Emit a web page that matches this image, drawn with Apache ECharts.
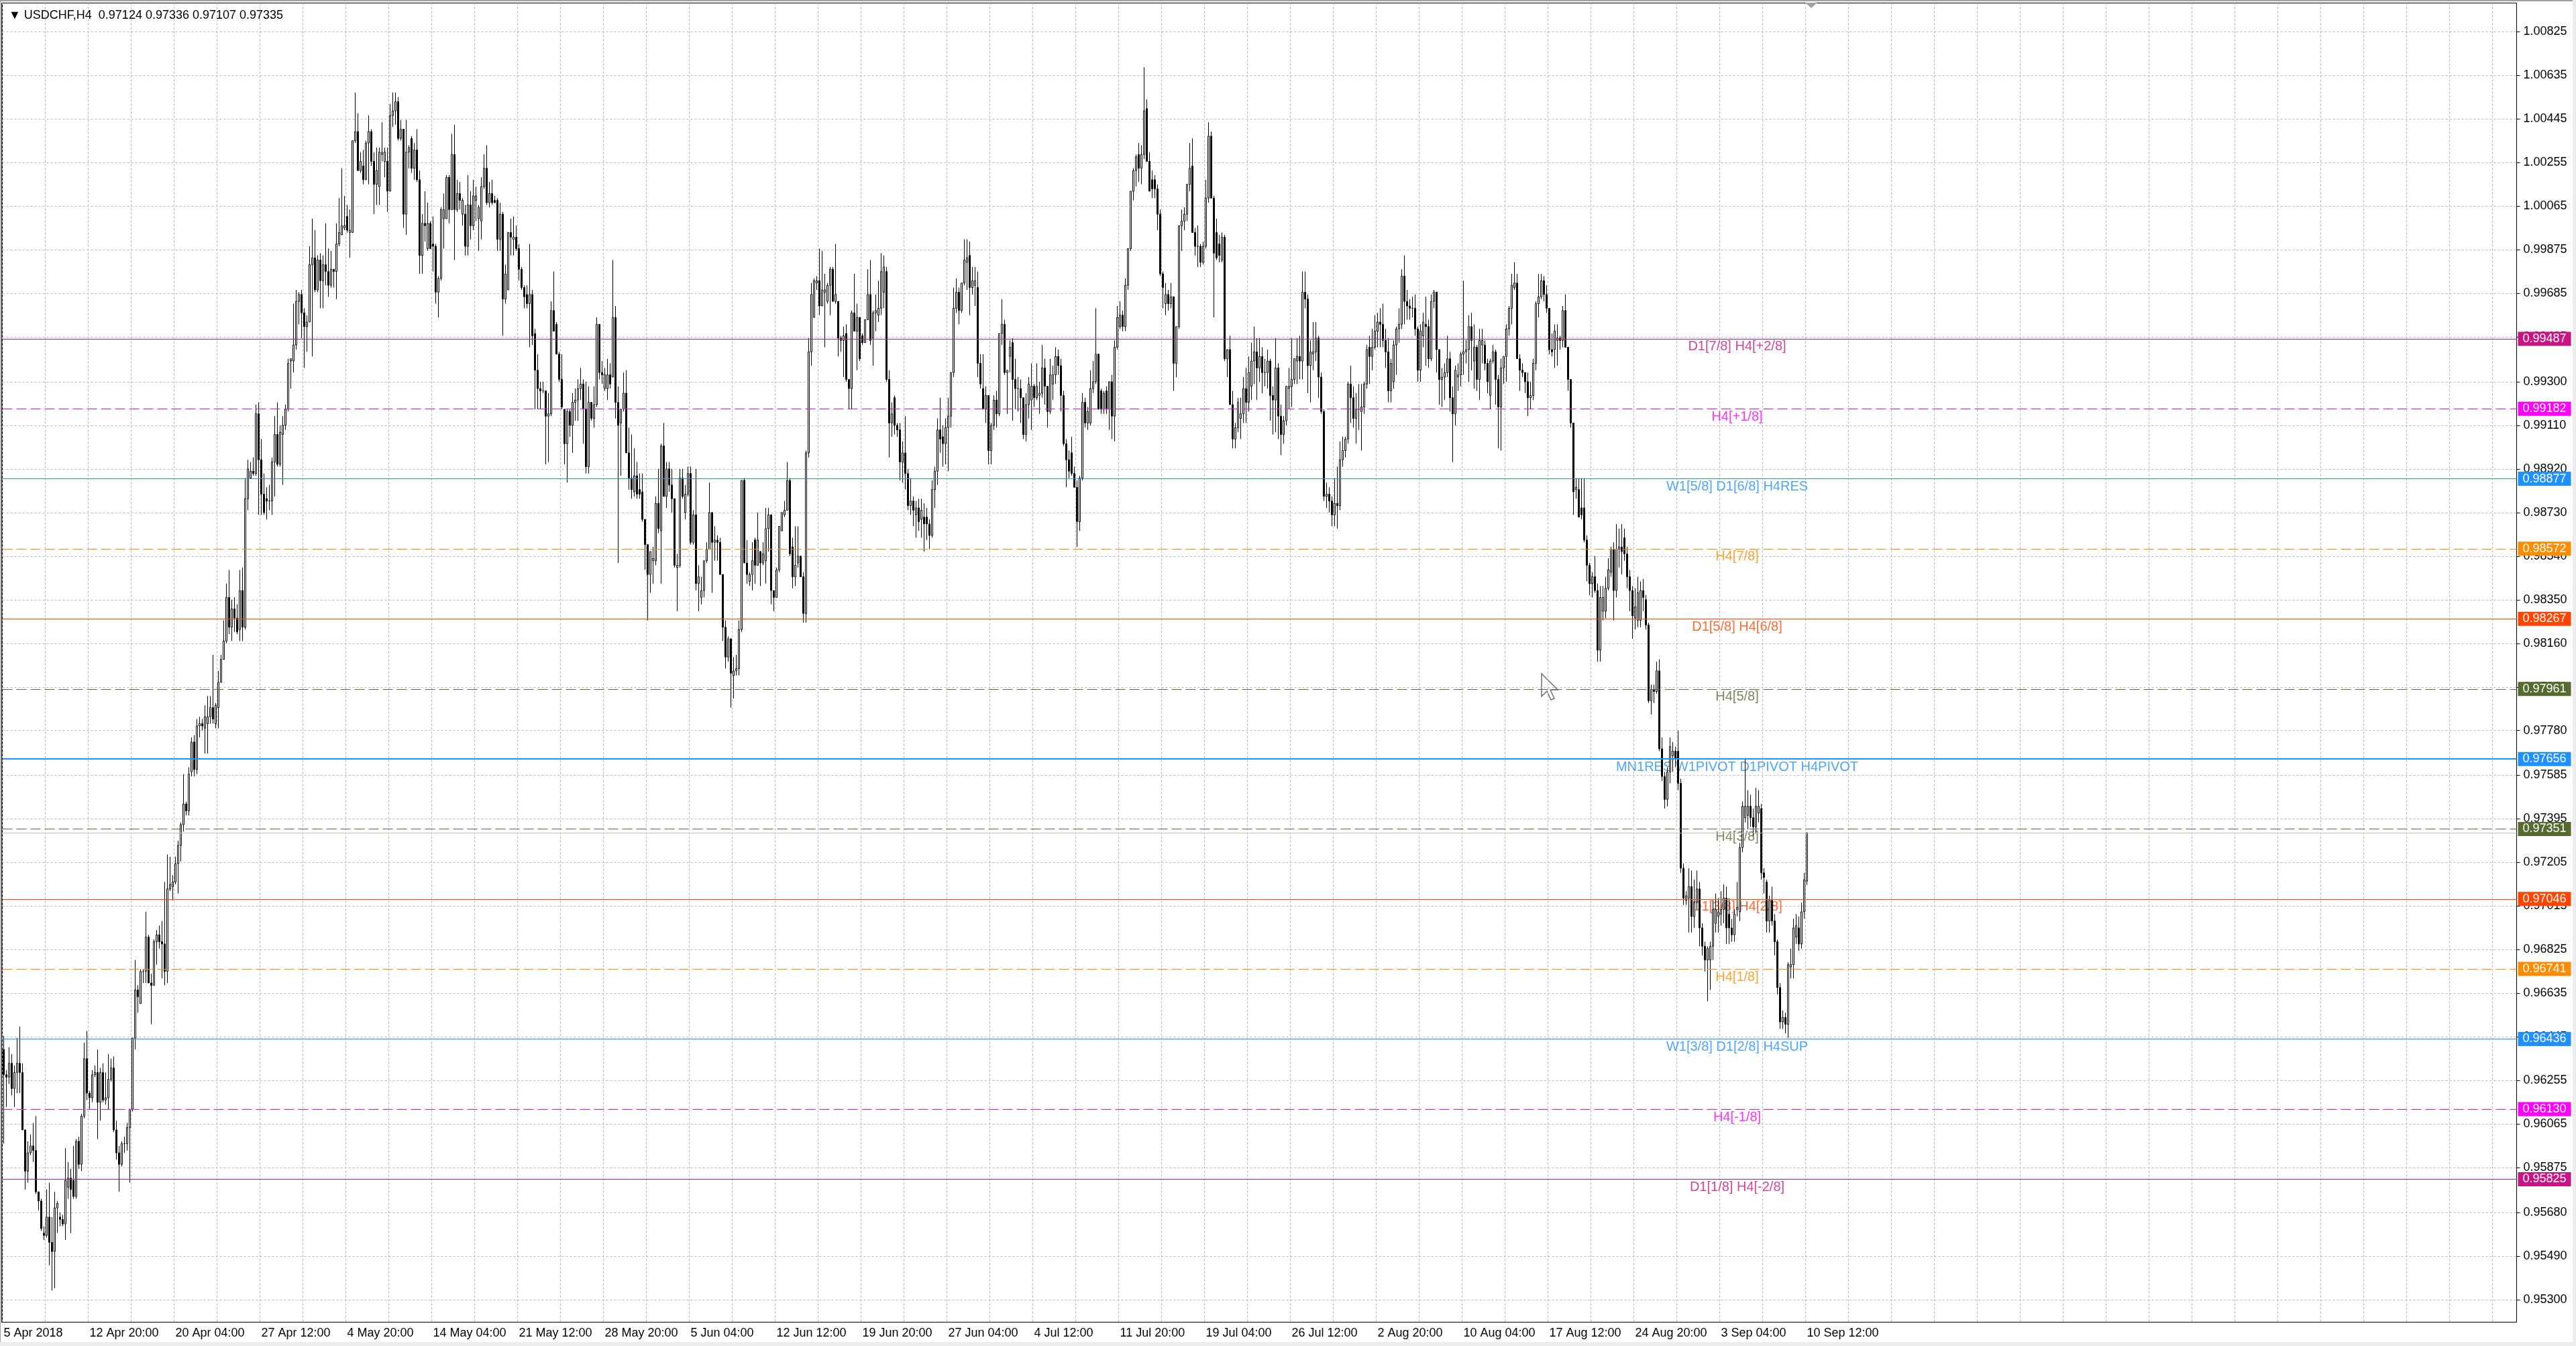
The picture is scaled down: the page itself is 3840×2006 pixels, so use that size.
<!DOCTYPE html>
<html>
<head>
<meta charset="utf-8">
<title>USDCHF,H4</title>
<script src="https://cdn.jsdelivr.net/npm/echarts@6/dist/echarts.min.js"></script>
<style>
  html, body { margin: 0; padding: 0; background: #fff; }
  #chart { width: 3840px; height: 2006px; }
</style>
</head>
<body>
<div id="chart"></div>
<script>
// symbol and timeframe shown in the top left
var symbolName = 'USDCHF';
var timeframe = 'H4';

// time labels, one every 32 bars
var dateLabels = ['5 Apr 2018', '12 Apr 20:00', '20 Apr 04:00', '27 Apr 12:00', '4 May 20:00',
  '14 May 04:00', '21 May 12:00', '28 May 20:00', '5 Jun 04:00', '12 Jun 12:00', '19 Jun 20:00',
  '27 Jun 04:00', '4 Jul 12:00', '11 Jul 20:00', '19 Jul 04:00', '26 Jul 12:00', '2 Aug 20:00',
  '10 Aug 04:00', '17 Aug 12:00', '24 Aug 20:00', '3 Sep 04:00', '10 Sep 12:00'];

// price scale labels
var priceTicks = ['0.95300', '0.95490', '0.95680', '0.95875', '0.96065', '0.96255', '0.96445',
  '0.96635', '0.96825', '0.97015', '0.97205', '0.97395', '0.97585', '0.97780', '0.97970',
  '0.98160', '0.98350', '0.98540', '0.98730', '0.98920', '0.99110', '0.99300', '0.99495',
  '0.99685', '0.99875', '1.00065', '1.00255', '1.00445', '1.00635', '1.00825'];

// murrey / pivot levels
var levelPrices = [0.99487, 0.99182, 0.98877, 0.98572, 0.98267, 0.97961, 0.97656,
  0.97351, 0.97046, 0.96741, 0.96436, 0.96130, 0.95825];
var levelNames = ['D1[7/8] H4[+2/8]', 'H4[+1/8]', 'W1[5/8] D1[6/8] H4RES', 'H4[7/8]',
  'D1[5/8] H4[6/8]', 'H4[5/8]', 'MN1RES W1PIVOT D1PIVOT H4PIVOT', 'H4[3/8]',
  'D1[3/8] H4[2/8]', 'H4[1/8]', 'W1[3/8] D1[2/8] H4SUP', 'H4[-1/8]', 'D1[1/8] H4[-2/8]'];
var levelColors = ['#C71585', '#FF00FF', '#1E90FF', '#FF8C00', '#FF4500', '#556B2F', '#1E90FF',
  '#556B2F', '#FF4500', '#FF8C00', '#1E90FF', '#FF00FF', '#C71585'];
var levelDashed = [false, true, false, true, false, true, false, true, false, true, false, true, false];
var levelWidths = [1, 1, 1, 1, 1, 1, 2, 1, 1, 1, 1, 1, 1];

// H4 bars: [open, high, low, close]
var bars = [
  // 0 - 69
  [.9639,.9645,.9598,.9628],[.9628,.9630,.9614,.9627],[.9627,.9640,.9624,.9633],[.9633,.9637,.9619,.9622],
  [.9622,.9632,.9614,.9629],[.9629,.9644,.9620,.9633],[.9633,.9649,.9620,.9629],[.9629,.9633,.9604,.9604],
  [.9604,.9604,.9578,.9586],[.9586,.9599,.9581,.9594],[.9594,.9602,.9593,.9597],[.9597,.9607,.9590,.9595],
  [.9595,.9610,.9576,.9577],[.9577,.9577,.9569,.9573],[.9573,.9574,.9560,.9561],[.9559,.9562,.9556,.9558],
  [.9558,.9578,.9557,.9566],[.9566,.9581,.9545,.9555],[.9555,.9566,.9534,.9551],[.9551,.9577,.9535,.9570],
  [.9570,.9573,.9559,.9572],[.9566,.9568,.9562,.9565],[.9565,.9567,.9562,.9563],[.9563,.9596,.9556,.9582],
  [.9579,.9590,.9574,.9583],[.9583,.9587,.9559,.9578],[.9582,.9597,.9574,.9575],[.9575,.9600,.9574,.9599],
  [.9599,.9601,.9587,.9589],[.9589,.9611,.9586,.9610],[.9610,.9642,.9609,.9635],[.9635,.9647,.9617,.9620],
  [.9620,.9621,.9613,.9618],[.9618,.9630,.9616,.9628],[.9628,.9632,.9627,.9629],[.9629,.9639,.9600,.9616],
  [.9616,.9631,.9608,.9629],[.9629,.9633,.9616,.9617],[.9617,.9629,.9615,.9618],[.9618,.9637,.9613,.9626],
  [.9626,.9635,.9625,.9631],[.9631,.9636,.9603,.9604],[.9604,.9608,.9591,.9594],[.9594,.9597,.9577,.9589],
  [.9589,.9599,.9588,.9598],[.9598,.9601,.9594,.9598],[.9598,.9607,.9595,.9605],[.9605,.9613,.9581,.9613],
  [.9613,.9644,.9612,.9644],[.9644,.9678,.9639,.9665],[.9665,.9667,.9655,.9662],[.9659,.9674,.9659,.9673],
  [.9673,.9674,.9668,.9673],[.9673,.9699,.9668,.9688],[.9688,.9689,.9668,.9668],[.9668,.9672,.9650,.9667],
  [.9667,.9687,.9667,.9686],[.9686,.9691,.9676,.9689],[.9689,.9693,.9683,.9686],[.9686,.9695,.9670,.9685],
  [.9685,.9712,.9667,.9673],[.9673,.9724,.9668,.9709],[.9709,.9723,.9708,.9711],[.9710,.9715,.9704,.9712],
  [.9712,.9723,.9711,.9720],[.9720,.9730,.9707,.9728],[.9728,.9738,.9721,.9737],[.9737,.9759,.9734,.9746],
  [.9746,.9747,.9741,.9743],[.9743,.9762,.9741,.9759],
  // 70 - 197
  [.9760,.9775,.9758,.9773],[.9773,.9776,.9758,.9761],[.9761,.9783,.9759,.9780],[.9780,.9784,.9775,.9781],
  [.9781,.9783,.9778,.9780],[.9779,.9789,.9768,.9784],[.9781,.9793,.9768,.9784],[.9784,.9793,.9781,.9788],
  [.9788,.9811,.9781,.9783],[.9781,.9790,.9779,.9789],[.9788,.9804,.9779,.9799],[.9799,.9811,.9799,.9809],
  [.9809,.9826,.9809,.9817],[.9817,.9842,.9816,.9836],[.9836,.9848,.9820,.9823],[.9823,.9835,.9817,.9831],
  [.9831,.9836,.9821,.9827],[.9827,.9833,.9820,.9821],[.9822,.9848,.9817,.9839],[.9839,.9849,.9817,.9823],
  [.9823,.9888,.9822,.9879],[.9879,.9896,.9874,.9892],[.9888,.9895,.9888,.9891],[.9891,.9897,.9889,.9890],
  [.9890,.9920,.9889,.9916],[.9916,.9921,.9872,.9896],[.9896,.9905,.9872,.9881],[.9881,.9890,.9872,.9873],
  [.9879,.9884,.9870,.9878],[.9878,.9885,.9874,.9878],[.9878,.9897,.9872,.9895],[.9895,.9915,.9880,.9907],
  [.9907,.9921,.9893,.9894],[.9894,.9911,.9893,.9908],[.9907,.9915,.9885,.9911],[.9911,.9920,.9909,.9918],
  [.9918,.9940,.9917,.9938],[.9939,.9940,.9927,.9940],[.9939,.9964,.9934,.9946],[.9946,.9970,.9944,.9965],
  [.9965,.9969,.9955,.9968],[.9968,.9970,.9949,.9960],[.9960,.9962,.9936,.9954],[.9954,.9959,.9943,.9956],
  [.9956,.9989,.9956,.9981],[.9981,1.0001,.9941,.9984],[.9984,.9996,.9969,.9970],[.9970,.9985,.9969,.9983],
  [.9983,.9986,.9962,.9974],[.9974,.9985,.9962,.9981],[.9981,.9999,.9972,.9978],[.9978,.9988,.9967,.9972],
  [.9972,.9987,.9971,.9979],[.9979,.9979,.9971,.9978],[.9978,.9999,.9966,.9990],[.9990,1.0010,.9989,.9995],
  [.9994,1.0023,.9994,.9998],[.9997,1.0011,.9996,.9998],[1.0002,1.0007,.9995,.9996],[.9995,1.0005,.9984,.9996],
  [.9995,1.0035,.9995,1.0035],[1.0035,1.0056,1.0034,1.0039],[1.0039,1.0047,1.0022,1.0022],[1.0022,1.0030,1.0021,1.0026],
  [1.0024,1.0031,1.0016,1.0018],[1.0018,1.0035,1.0018,1.0034],[1.0034,1.0046,1.0016,1.0039],[1.0039,1.0040,1.0024,1.0026],
  [1.0026,1.0030,1.0003,1.0016],[1.0016,1.0032,1.0007,1.0022],[1.0015,1.0032,1.0007,1.0030],[1.0029,1.0043,1.0026,1.0030],
  [1.0026,1.0032,1.0019,1.0030],[1.0026,1.0032,1.0004,1.0013],[1.0013,1.0051,1.0013,1.0046],[1.0046,1.0056,1.0041,1.0048],
  [1.0048,1.0056,1.0042,1.0052],[1.0052,1.0054,1.0035,1.0036],[1.0036,1.0044,1.0035,1.0040],[1.0040,1.0040,.9997,1.0003],
  [1.0003,1.0044,.9994,1.0030],[1.0030,1.0033,1.0023,1.0032],[1.0036,1.0037,1.0021,1.0023],[1.0023,1.0034,1.0018,1.0031],
  [1.0031,1.0040,1.0017,1.0018],[1.0018,1.0022,.9977,.9985],[.9985,1.0003,.9977,.9999],[.9999,1.0013,.9991,.9998],
  [.9988,1.0008,.9987,.9999],[.9999,1.0000,.9988,.9988],[.9990,1.0002,.9978,.9989],[.9989,.9990,.9964,.9969],
  [.9969,.9976,.9958,.9975],[.9975,1.0006,.9974,1.0005],[1.0001,1.0012,.9988,1.0005],[1.0001,1.0020,1.0001,1.0019],
  [1.0019,1.0020,.9999,1.0005],[1.0005,1.0038,1.0005,1.0029],[1.0029,1.0042,.9983,1.0005],[1.0005,1.0018,1.0004,1.0012],
  [1.0012,1.0017,1.0005,1.0009],[1.0003,1.0010,.9998,1.0009],[1.0003,1.0007,.9985,.9989],[.9989,1.0020,.9985,1.0007],
  [1.0007,1.0013,.9992,.9998],[.9998,1.0018,.9996,1.0011],[1.0009,1.0015,1.0000,1.0011],[1.0001,1.0007,.9987,1.0006],
  [1.0000,1.0019,.9992,1.0015],[1.0015,1.0029,1.0014,1.0023],[1.0023,1.0033,1.0007,1.0008],[1.0008,1.0017,1.0006,1.0012],
  [1.0012,1.0018,1.0007,1.0008],[1.0009,1.0011,1.0008,1.0008],[1.0009,1.0010,.9987,.9992],[.9992,1.0008,.9987,1.0003],
  [1.0003,1.0004,.9950,.9966],[.9966,.9981,.9964,.9977],[.9970,.9995,.9970,.9995],[.9995,1.0001,.9985,.9993],
  [.9992,1.0002,.9985,.9993],[.9993,.9998,.9987,.9988],[.9988,.9990,.9974,.9979],[.9979,.9980,.9970,.9971],
  [.9971,.9972,.9962,.9967],[.9968,.9972,.9962,.9964],[.9964,.9990,.9945,.9968],[.9968,.9970,.9946,.9950],
  // 198 - 322
  [.9951,.9953,.9918,.9935],[.9935,.9942,.9918,.9927],[.9927,.9930,.9918,.9926],[.9926,.9930,.9925,.9926],
  [.9926,.9926,.9894,.9915],[.9915,.9925,.9895,.9916],[.9916,.9965,.9915,.9961],[.9961,.9978,.9952,.9952],
  [.9955,.9956,.9942,.9942],[.9942,.9943,.9930,.9931],[.9931,.9942,.9918,.9919],[.9918,.9918,.9894,.9903],
  [.9903,.9918,.9886,.9917],[.9917,.9918,.9906,.9911],[.9911,.9925,.9899,.9921],[.9921,.9927,.9913,.9922],
  [.9922,.9931,.9913,.9927],[.9927,.9936,.9922,.9929],[.9929,.9931,.9903,.9918],[.9918,.9930,.9890,.9893],
  [.9893,.9928,.9890,.9921],[.9921,.9921,.9913,.9914],[.9914,.9928,.9910,.9920],[.9920,.9958,.9919,.9955],
  [.9955,.9955,.9931,.9934],[.9934,.9939,.9929,.9933],[.9927,.9936,.9926,.9933],[.9927,.9940,.9922,.9933],
  [.9933,.9938,.9927,.9929],[.9932,.9983,.9932,.9958],[.9958,.9963,.9914,.9921],[.9921,.9928,.9851,.9911],
  [.9912,.9918,.9889,.9918],[.9918,.9934,.9917,.9925],[.9925,.9935,.9899,.9899],[.9899,.9910,.9883,.9888],
  [.9888,.9907,.9879,.9883],[.9882,.9901,.9880,.9889],[.9889,.9895,.9879,.9881],[.9883,.9890,.9879,.9881],
  [.9882,.9890,.9869,.9870],[.9870,.9870,.9848,.9859],[.9859,.9859,.9826,.9846],[.9846,.9856,.9838,.9856],
  [.9852,.9858,.9842,.9853],[.9852,.9880,.9850,.9877],[.9877,.9892,.9864,.9866],[.9865,.9903,.9842,.9902],
  [.9902,.9912,.9880,.9880],[.9880,.9895,.9875,.9892],[.9892,.9895,.9882,.9885],[.9885,.9892,.9873,.9879],
  [.9879,.9879,.9849,.9850],[.9849,.9855,.9830,.9850],[.9850,.9892,.9849,.9888],[.9888,.9892,.9879,.9880],
  [.9873,.9885,.9870,.9881],[.9881,.9893,.9880,.9890],[.9890,.9893,.9859,.9860],[.9860,.9874,.9859,.9872],
  [.9872,.9892,.9839,.9842],[.9842,.9850,.9830,.9845],[.9836,.9845,.9833,.9839],[.9839,.9852,.9836,.9852],
  [.9852,.9860,.9851,.9857],[.9857,.9886,.9857,.9873],[.9873,.9873,.9838,.9860],[.9860,.9867,.9852,.9861],
  [.9861,.9863,.9852,.9860],[.9860,.9862,.9846,.9846],[.9846,.9846,.9817,.9823],[.9823,.9826,.9805,.9810],
  [.9810,.9819,.9808,.9818],[.9818,.9818,.9788,.9803],[.9802,.9810,.9792,.9804],[.9804,.9811,.9802,.9805],
  [.9805,.9826,.9802,.9822],[.9822,.9887,.9821,.9887],[.9887,.9888,.9851,.9851],[.9851,.9861,.9842,.9846],
  [.9843,.9847,.9841,.9846],[.9846,.9860,.9839,.9852],[.9861,.9862,.9842,.9850],[.9850,.9873,.9850,.9861],
  [.9856,.9856,.9841,.9851],[.9851,.9860,.9850,.9855],[.9852,.9875,.9842,.9866],[.9866,.9875,.9856,.9872],
  [.9872,.9872,.9833,.9839],[.9839,.9839,.9830,.9836],[.9836,.9849,.9836,.9848],[.9848,.9867,.9847,.9867],
  [.9865,.9873,.9865,.9873],[.9872,.9878,.9871,.9874],[.9874,.9895,.9874,.9887],[.9887,.9888,.9854,.9855],
  [.9858,.9862,.9840,.9845],[.9845,.9867,.9841,.9850],[.9851,.9867,.9849,.9854],[.9854,.9854,.9845,.9845],
  [.9845,.9847,.9825,.9829],[.9829,.9900,.9825,.9899],[.9899,.9949,.9897,.9943],[.9943,.9973,.9937,.9968],
  [.9958,.9975,.9958,.9974],[.9973,.9976,.9970,.9974],[.9974,.9988,.9959,.9963],[.9963,.9987,.9963,.9970],
  [.9969,.9977,.9945,.9970],[.9965,.9973,.9964,.9972],[.9972,.9980,.9959,.9979],[.9979,.9980,.9965,.9965],
  [.9965,.9990,.9964,.9968],[.9965,.9965,.9941,.9949],[.9949,.9950,.9943,.9948],[.9948,.9954,.9932,.9950],
  [.9951,.9955,.9930,.9931],[.9931,.9931,.9918,.9927],[.9927,.9961,.9918,.9960],[.9960,.9977,.9952,.9952],
  [.9952,.9964,.9935,.9958],[.9958,.9958,.9939,.9940],[.9950,.9951,.9946,.9947],[.9947,.9957,.9947,.9957],
  [.9957,.9979,.9957,.9968],
  // 323 - 460
  [.9968,.9983,.9946,.9948],[.9949,.9961,.9937,.9960],[.9960,.9968,.9952,.9961],[.9959,.9974,.9956,.9962],
  [.9962,.9986,.9959,.9978],[.9969,.9985,.9962,.9980],[.9978,.9980,.9930,.9931],[.9931,.9935,.9897,.9912],
  [.9912,.9921,.9906,.9916],[.9923,.9924,.9907,.9911],[.9911,.9912,.9906,.9909],[.9909,.9912,.9887,.9895],
  [.9895,.9904,.9886,.9899],[.9899,.9915,.9883,.9890],[.9890,.9892,.9874,.9876],[.9876,.9888,.9872,.9878],
  [.9878,.9880,.9867,.9874],[.9872,.9878,.9862,.9875],[.9875,.9879,.9865,.9869],[.9870,.9879,.9862,.9874],
  [.9871,.9877,.9856,.9868],[.9871,.9875,.9861,.9868],[.9868,.9870,.9857,.9863],[.9863,.9887,.9862,.9883],
  [.9883,.9893,.9875,.9891],[.9891,.9914,.9885,.9909],[.9909,.9923,.9899,.9905],[.9906,.9911,.9893,.9903],
  [.9903,.9914,.9894,.9910],[.9910,.9923,.9891,.9915],[.9915,.9934,.9910,.9934],[.9934,.9971,.9932,.9962],
  [.9962,.9975,.9960,.9969],[.9969,.9971,.9955,.9961],[.9961,.9973,.9960,.9973],[.9973,.9992,.9972,.9983],
  [.9982,.9992,.9970,.9984],[.9985,.9991,.9959,.9971],[.9971,.9980,.9968,.9974],[.9972,.9980,.9963,.9974],
  [.9971,.9978,.9932,.9938],[.9938,.9942,.9927,.9929],[.9927,.9942,.9918,.9918],[.9918,.9928,.9912,.9924],
  [.9924,.9924,.9894,.9900],[.9900,.9912,.9894,.9911],[.9911,.9924,.9909,.9922],[.9922,.9926,.9910,.9916],
  [.9916,.9951,.9915,.9951],[.9951,.9966,.9946,.9955],[.9955,.9957,.9933,.9934],[.9934,.9935,.9916,.9935],
  [.9941,.9948,.9934,.9945],[.9947,.9949,.9913,.9931],[.9931,.9940,.9918,.9927],[.9927,.9932,.9917,.9927],
  [.9927,.9931,.9912,.9923],[.9923,.9923,.9905,.9907],[.9907,.9925,.9904,.9920],[.9920,.9932,.9914,.9929],
  [.9922,.9938,.9909,.9928],[.9928,.9929,.9919,.9923],[.9923,.9938,.9922,.9928],[.9924,.9930,.9916,.9925],
  [.9925,.9946,.9923,.9936],[.9936,.9940,.9920,.9928],[.9928,.9928,.9910,.9917],[.9917,.9940,.9916,.9933],
  [.9929,.9937,.9922,.9933],[.9933,.9945,.9929,.9941],[.9941,.9944,.9933,.9937],[.9937,.9940,.9917,.9924],
  [.9924,.9926,.9902,.9903],[.9903,.9905,.9884,.9896],[.9896,.9900,.9888,.9891],[.9899,.9906,.9889,.9890],
  [.9890,.9893,.9884,.9884],[.9884,.9887,.9858,.9869],[.9869,.9889,.9865,.9888],[.9888,.9925,.9887,.9921],
  [.9921,.9923,.9910,.9912],[.9912,.9919,.9909,.9917],[.9912,.9935,.9911,.9927],[.9927,.9939,.9925,.9930],
  [.9930,.9962,.9929,.9942],[.9942,.9942,.9918,.9918],[.9926,.9927,.9916,.9918],[.9918,.9926,.9916,.9925],
  [.9926,.9928,.9916,.9918],[.9918,.9930,.9909,.9930],[.9930,.9933,.9905,.9915],[.9915,.9948,.9904,.9945],
  [.9945,.9963,.9944,.9958],[.9954,.9965,.9953,.9959],[.9959,.9961,.9952,.9954],[.9954,.9975,.9952,.9972],
  [.9972,.9988,.9970,.9988],[.9988,1.0013,.9987,1.0013],[1.0013,1.0023,1.0009,1.0022],[1.0022,1.0029,1.0015,1.0028],
  [1.0029,1.0034,1.0017,1.0023],[1.0023,1.0033,1.0016,1.0029],[1.0029,1.0067,1.0027,1.0048],[1.0049,1.0053,1.0026,1.0026],
  [1.0026,1.0030,1.0013,1.0013],[1.0018,1.0022,1.0010,1.0014],[1.0018,1.0020,1.0010,1.0014],[1.0014,1.0016,.9996,1.0003],
  [1.0003,1.0005,.9976,.9977],[.9977,.9978,.9962,.9971],[.9964,.9973,.9959,.9968],[.9968,.9970,.9961,.9964],
  [.9964,.9973,.9962,.9967],[.9967,.9967,.9926,.9938],[.9938,.9954,.9932,.9954],[.9954,.9998,.9953,.9998],
  [.9998,1.0005,.9987,1.0000],[1.0000,1.0006,.9996,1.0003],[1.0003,1.0016,1.0000,1.0016],[1.0016,1.0034,1.0013,1.0023],
  [1.0024,1.0036,.9995,.9995],[.9995,.9997,.9985,.9989],[.9989,.9998,.9980,.9989],[.9989,.9990,.9980,.9982],
  [.9982,.9991,.9981,.9989],[.9989,1.0018,.9988,1.0010],[1.0010,1.0043,1.0008,1.0037],[1.0037,1.0039,1.0010,1.0010],
  [1.0010,1.0011,.9958,.9986],[.9995,1.0001,.9983,.9984],[.9990,.9994,.9982,.9985],[.9983,.9995,.9982,.9993],
  [.9993,.9994,.9939,.9940],[.9940,.9944,.9932,.9944],[.9944,.9950,.9920,.9920],[.9920,.9926,.9901,.9905],
  [.9905,.9912,.9901,.9910],[.9910,.9923,.9908,.9921],
  // 461 - 598
  [.9914,.9923,.9905,.9916],[.9916,.9932,.9912,.9927],[.9927,.9936,.9912,.9921],[.9921,.9941,.9917,.9934],
  [.9928,.9947,.9922,.9939],[.9939,.9954,.9929,.9943],[.9943,.9949,.9922,.9936],[.9936,.9949,.9930,.9941],
  [.9941,.9945,.9925,.9934],[.9934,.9940,.9928,.9934],[.9934,.9944,.9927,.9939],[.9939,.9940,.9913,.9924],
  [.9924,.9928,.9907,.9922],[.9922,.9949,.9908,.9936],[.9936,.9938,.9905,.9915],[.9915,.9920,.9898,.9907],
  [.9907,.9915,.9903,.9913],[.9913,.9928,.9911,.9928],[.9927,.9936,.9918,.9928],[.9928,.9949,.9919,.9931],
  [.9931,.9940,.9929,.9940],[.9939,.9949,.9929,.9941],[.9941,.9950,.9931,.9939],[.9939,.9978,.9931,.9969],
  [.9969,.9978,.9962,.9966],[.9966,.9968,.9925,.9937],[.9937,.9948,.9921,.9943],[.9942,.9956,.9935,.9943],
  [.9943,.9956,.9939,.9949],[.9949,.9950,.9923,.9932],[.9932,.9934,.9916,.9917],[.9917,.9918,.9878,.9880],
  [.9880,.9886,.9875,.9881],[.9881,.9884,.9873,.9878],[.9878,.9880,.9867,.9872],[.9872,.9888,.9867,.9877],
  [.9877,.9893,.9866,.9876],[.9876,.9904,.9874,.9896],[.9896,.9906,.9893,.9900],[.9900,.9906,.9897,.9905],
  [.9905,.9930,.9903,.9929],[.9929,.9937,.9912,.9923],[.9923,.9928,.9910,.9914],[.9914,.9925,.9903,.9918],
  [.9918,.9929,.9909,.9918],[.9917,.9929,.9900,.9919],[.9919,.9930,.9916,.9929],[.9929,.9946,.9927,.9944],
  [.9945,.9950,.9929,.9941],[.9941,.9953,.9935,.9945],[.9945,.9959,.9944,.9952],[.9952,.9960,.9945,.9956],
  [.9956,.9962,.9945,.9955],[.9955,.9964,.9945,.9948],[.9948,.9953,.9936,.9943],[.9943,.9949,.9921,.9926],
  [.9926,.9940,.9921,.9938],[.9930,.9948,.9927,.9946],[.9946,.9954,.9933,.9953],[.9953,.9962,.9947,.9955],
  [.9955,.9979,.9953,.9976],[.9976,.9985,.9955,.9965],[.9965,.9970,.9957,.9963],[.9963,.9966,.9957,.9962],
  [.9962,.9967,.9958,.9962],[.9962,.9968,.9950,.9953],[.9953,.9954,.9930,.9935],[.9935,.9955,.9930,.9952],
  [.9950,.9960,.9945,.9956],[.9955,.9967,.9937,.9954],[.9954,.9957,.9936,.9940],[.9940,.9968,.9939,.9965],
  [.9965,.9970,.9962,.9969],[.9969,.9969,.9934,.9944],[.9944,.9944,.9920,.9931],[.9931,.9936,.9919,.9932],
  [.9932,.9938,.9922,.9934],[.9934,.9950,.9932,.9940],[.9940,.9943,.9917,.9923],[.9923,.9928,.9895,.9916],
  [.9916,.9937,.9911,.9935],[.9932,.9938,.9926,.9933],[.9933,.9943,.9928,.9942],[.9942,.9974,.9933,.9943],
  [.9943,.9948,.9938,.9944],[.9944,.9959,.9930,.9954],[.9954,.9960,.9935,.9948],[.9939,.9955,.9927,.9945],
  [.9945,.9946,.9926,.9931],[.9931,.9953,.9922,.9948],[.9946,.9953,.9938,.9948],[.9946,.9948,.9935,.9938],
  [.9938,.9940,.9925,.9930],[.9924,.9940,.9918,.9939],[.9939,.9946,.9938,.9943],[.9943,.9944,.9920,.9931],
  [.9931,.9933,.9901,.9919],[.9919,.9940,.9900,.9936],[.9936,.9941,.9929,.9941],[.9941,.9955,.9930,.9953],
  [.9953,.9963,.9950,.9962],[.9962,.9977,.9955,.9972],[.9971,.9982,.9970,.9973],[.9973,.9977,.9940,.9940],
  [.9940,.9942,.9926,.9935],[.9935,.9938,.9932,.9934],[.9934,.9934,.9925,.9930],[.9930,.9934,.9915,.9923],
  [.9923,.9930,.9918,.9924],[.9924,.9940,.9922,.9938],[.9938,.9965,.9935,.9964],[.9964,.9977,.9958,.9967],
  [.9967,.9977,.9966,.9974],[.9974,.9976,.9965,.9968],[.9968,.9972,.9960,.9962],[.9962,.9962,.9942,.9944],
  [.9944,.9951,.9941,.9943],[.9944,.9955,.9936,.9952],[.9948,.9955,.9937,.9949],[.9949,.9950,.9944,.9948],
  [.9948,.9963,.9945,.9961],[.9961,.9968,.9945,.9945],[.9945,.9945,.9926,.9931],[.9931,.9931,.9910,.9912],
  [.9912,.9912,.9872,.9882],[.9883,.9888,.9879,.9884],[.9883,.9888,.9871,.9871],[.9875,.9888,.9870,.9872],
  [.9875,.9888,.9860,.9861],[.9861,.9863,.9843,.9850],[.9850,.9851,.9837,.9842],[.9842,.9847,.9836,.9845],
  [.9845,.9854,.9838,.9839],[.9839,.9842,.9808,.9813],[.9813,.9841,.9808,.9836],[.9830,.9841,.9826,.9836],
  [.9830,.9845,.9827,.9840],[.9840,.9853,.9839,.9848],
  // 599 - 672
  [.9847,.9858,.9845,.9857],[.9857,.9860,.9826,.9839],[.9839,.9868,.9836,.9857],[.9857,.9866,.9849,.9858],
  [.9858,.9868,.9846,.9856],[.9862,.9866,.9852,.9855],[.9855,.9858,.9840,.9845],[.9845,.9848,.9830,.9839],
  [.9839,.9841,.9818,.9828],[.9827,.9840,.9822,.9832],[.9826,.9845,.9823,.9838],[.9826,.9843,.9823,.9839],
  [.9839,.9844,.9830,.9836],[.9835,.9837,.9822,.9824],[.9824,.9825,.9790,.9791],[.9791,.9798,.9785,.9796],
  [.9796,.9798,.9790,.9795],[.9795,.9808,.9794,.9804],[.9804,.9809,.9769,.9770],[.9770,.9775,.9756,.9758],
  [.9758,.9760,.9744,.9748],[.9748,.9762,.9745,.9760],[.9760,.9775,.9755,.9771],[.9767,.9773,.9760,.9769],
  [.9769,.9771,.9762,.9766],[.9769,.9778,.9752,.9755],[.9755,.9757,.9716,.9718],[.9718,.9720,.9702,.9705],
  [.9704,.9708,.9702,.9706],[.9705,.9718,.9690,.9710],[.9710,.9717,.9690,.9697],[.9697,.9713,.9692,.9703],
  [.9703,.9717,.9700,.9709],[.9709,.9712,.9684,.9692],[.9692,.9694,.9680,.9684],[.9684,.9686,.9673,.9678],
  [.9678,.9684,.9660,.9683],[.9678,.9686,.9665,.9684],[.9684,.9704,.9678,.9700],[.9694,.9707,.9690,.9700],
  [.9697,.9705,.9690,.9699],[.9698,.9708,.9693,.9700],[.9700,.9711,.9694,.9705],[.9705,.9710,.9685,.9692],
  [.9698,.9705,.9685,.9692],[.9692,.9696,.9686,.9689],[.9689,.9700,.9686,.9698],[.9700,.9712,.9697,.9701],
  [.9699,.9729,.9695,.9727],[.9727,.9747,.9725,.9745],[.9740,.9766,.9738,.9745],[.9741,.9752,.9735,.9745],
  [.9745,.9750,.9736,.9740],[.9740,.9744,.9732,.9736],[.9736,.9753,.9733,.9745],[.9742,.9752,.9738,.9745],
  [.9744,.9746,.9713,.9716],[.9716,.9718,.9707,.9714],[.9712,.9713,.9690,.9695],[.9695,.9706,.9690,.9704],
  [.9704,.9710,.9693,.9695],[.9695,.9698,.9680,.9686],[.9686,.9687,.9663,.9666],[.9666,.9668,.9648,.9651],
  [.9651,.9656,.9648,.9653],[.9653,.9655,.9646,.9650],[.9650,.9677,.9644,.9676],[.9675,.9683,.9670,.9676],
  [.9676,.9696,.9670,.9692],[.9688,.9698,.9685,.9693],[.9692,.9697,.9682,.9685],[.9685,.9703,.9683,.9699],
  [.9699,.9716,.9696,.9713],[.97124,.97336,.97107,.97335]
];

var slotCount = 937;          // bar slots across the visible width (4 px each)
var labelStep = 32;           // bars between time labels
var textBarIndex = 646;       // bar where the level names are centred

var categories = [];
for (var i = 0; i < slotCount; i++) categories.push(String(i));

// echarts wants [open, close, lowest, highest]
var candleData = bars.map(function (b) {
  var hi = Math.max(b[1], b[0], b[3]);
  var lo = Math.min(b[2], b[0], b[3]);
  return [b[0], b[3], lo, hi];
});

var last = bars[bars.length - 1];
var titleText = '\u25BC ' + symbolName + ',' + timeframe + '  ' +
  last.map(function (v) { return v.toFixed(5); }).join(' ');

var levelLines = levelPrices.map(function (p, k) {
  return {
    yAxis: p,
    lineStyle: { color: levelColors[k], width: levelWidths[k], type: levelDashed[k] ? [15, 6] : 'solid', opacity: 1 },
    label: {
      show: true, position: 'end', distance: 2,
      formatter: p.toFixed(5),
      color: '#fff', backgroundColor: levelColors[k],
      padding: [2, 7, 1, 7],
      fontFamily: 'Liberation Sans', fontSize: 18
    }
  };
});
// bid line at the last close
levelLines.unshift({
  yAxis: last[3],
  lineStyle: { color: '#c0c0c0', width: 1, type: 'solid' },
  label: { show: false }
});

var levelTexts = levelPrices.map(function (p, k) {
  return {
    value: [textBarIndex, p],
    label: {
      show: true, position: 'bottom', distance: 2,
      formatter: levelNames[k], color: levelColors[k],
      fontFamily: 'Liberation Sans', fontSize: 20
    }
  };
});

var myChart = echarts.init(document.getElementById('chart'));

var option = {
  animation: false,
  backgroundColor: '#ffffff',
  title: {
    text: titleText,
    left: 8, top: 9,
    textStyle: { fontFamily: 'Liberation Sans', fontSize: 18, fontWeight: 'normal', color: '#000' }
  },
  grid: {
    left: 3.5, right: 88.5, top: 4.5, bottom: 35.5,
    show: true, borderColor: '#000', borderWidth: 1, backgroundColor: '#fff'
  },
  xAxis: {
    type: 'category',
    data: categories,
    boundaryGap: true,
    axisLine: { lineStyle: { color: '#000', width: 1 } },
    axisTick: { interval: labelStep - 1, alignWithLabel: true, length: 6, lineStyle: { color: '#000' } },
    axisLabel: {
      interval: labelStep - 1,
      align: 'left', margin: 8,
      fontFamily: 'Liberation Sans', fontSize: 18, color: '#000',
      formatter: function (v, idx) {
        var n = idx / labelStep;
        return (idx % labelStep === 0 && dateLabels[n]) ? dateLabels[n] : '';
      }
    },
    splitLine: { show: true, interval: labelStep / 2 - 1, lineStyle: { color: '#b8b8b8', type: [3, 3] } }
  },
  yAxis: {
    type: 'value',
    position: 'right',
    min: 0.95202, max: 1.00950,
    axisLine: { show: true, lineStyle: { color: '#000', width: 1 } },
    axisTick: { show: true, length: 5, customValues: priceTicks.map(Number), lineStyle: { color: '#000' } },
    axisLabel: {
      customValues: priceTicks.map(Number),
      margin: 10,
      fontFamily: 'Liberation Sans', fontSize: 18, color: '#000',
      formatter: function (v) { return v.toFixed(5); }
    },
    splitLine: { show: true, lineStyle: { color: '#b8b8b8', type: [3, 3] } }
  },
  series: [
    {
      name: 'levels',
      type: 'scatter',
      z: 1,
      symbolSize: 0,
      silent: true,
      data: levelTexts,
      markLine: { silent: true, precision: 5, symbol: ['none', 'none'], animation: false, data: levelLines }
    },
    {
      name: symbolName,
      type: 'candlestick',
      z: 3,
      large: false,
      barWidth: 2,
      data: candleData,
      itemStyle: { color: '#ffffff', color0: '#000000', borderColor: '#000000', borderColor0: '#000000', borderWidth: 1 }
    }
  ],
  graphic: [
    { type: 'rect', shape: { x: 0, y: 0, width: 3840, height: 2 }, style: { fill: '#a0a0a0' }, silent: true },
    { type: 'rect', shape: { x: 0, y: 0, width: 1, height: 2006 }, style: { fill: '#a0a0a0' }, silent: true },
    { type: 'rect', shape: { x: 2, y: 4, width: 1, height: 1967 }, style: { fill: '#000000' }, silent: true },
    { type: 'rect', shape: { x: 3835, y: 0, width: 5, height: 2006 }, style: { fill: '#ececec' }, silent: true },
    { type: 'rect', shape: { x: 0, y: 2000, width: 3840, height: 6 }, style: { fill: '#ececec' }, silent: true },
    { type: 'polygon', shape: { points: [[2691, 4], [2709, 4], [2700, 12]] }, style: { fill: '#a0a0a0' }, silent: true },
    {
      type: 'polygon', silent: true,
      shape: { points: [[2298, 1004], [2298, 1038], [2306, 1030], [2312, 1043], [2317, 1041], [2311, 1028], [2322, 1028]] },
      style: { fill: '#ffffff', stroke: '#707070', lineWidth: 1.5 }
    }
  ]
};

myChart.setOption(option);
</script>
</body>
</html>
